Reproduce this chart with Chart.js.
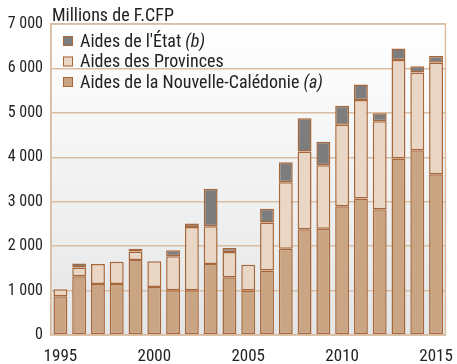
<!DOCTYPE html>
<html lang="fr">
<head>
<meta charset="UTF-8">
<script src="https://cdn.jsdelivr.net/npm/chart.js@4/dist/chart.umd.min.js"></script>
<style>
*{margin:0;padding:0}
body{background:#fff;width:457px;height:364px;overflow:hidden}
#wrap{position:relative;width:457px;height:364px}
</style>
</head>
<body>
<div id="wrap"><canvas id="c" width="457" height="364"></canvas></div>
<script>
// Aides en millions de F.CFP, par année
const years = ["1995","1996","1997","1998","1999","2000","2001","2002","2003","2004","2005",
  "2006","2007","2008","2009","2010","2011","2012","2013","2014","2015"];
const aidesNC = [870,1320,1150,1150,1690,1080,1010,1010,1600,1300,1000,1450,1940,2380,2390,2900,3070,2830,3970,4160,3620];
const aidesProvinces = [160,200,450,500,190,580,760,1420,850,570,580,1080,1500,1750,1430,1830,2220,1980,2220,1750,2510];
const aidesEtat = [0,90,0,0,60,0,140,80,840,90,0,310,450,750,530,430,350,180,260,140,150];
const yTicks = [0,1000,2000,3000,4000,5000,6000,7000];

const FONT = "'Liberation Sans Narrow','Roboto Condensed','DejaVu Sans Condensed',sans-serif";
const EDGE = "#a7673a";
const TAN = "#d9bea4";

function fmt(v){ return String(v).replace(/\B(?=(\d{3})+(?!\d))/g, " "); }

const legendItems = [
  {text:"Aides de l'État", note:"(b)", color:"#7d7d7d"},
  {text:"Aides des Provinces", note:"", color:"#e9d6c5"},
  {text:"Aides de la Nouvelle-Calédonie", note:"(a)", color:"#c9a584"}
];

const decor = {
  id:"decor",
  beforeDraw(chart){
    const a = chart.chartArea, ctx = chart.ctx;
    const g = ctx.createLinearGradient(0, a.top, 0, a.bottom);
    g.addColorStop(0, "#ffffff");
    g.addColorStop(1, "#e4e5e6");
    ctx.save();
    ctx.fillStyle = g;
    ctx.fillRect(a.left, a.top, a.right - a.left, a.bottom - a.top);
    ctx.restore();
  },
  afterDraw(chart){
    const a = chart.chartArea, ctx = chart.ctx;
    ctx.save();
    ctx.strokeStyle = TAN;
    ctx.lineWidth = 1.5;
    ctx.strokeRect(a.left, a.top, a.right - a.left, a.bottom - a.top);
    // unité
    ctx.fillStyle = "#222";
    ctx.font = "18px " + FONT;
    ctx.textBaseline = "alphabetic";
    ctx.fillText("Millions de F.CFP", 52, 21);
    // légende
    let y = 41;
    legendItems.forEach(it => {
      ctx.fillStyle = it.color;
      ctx.fillRect(63, y - 5, 10, 10);
      ctx.strokeStyle = EDGE;
      ctx.lineWidth = 1;
      ctx.strokeRect(63.5, y - 4.5, 9, 9);
      ctx.fillStyle = "#222";
      ctx.textBaseline = "middle";
      ctx.font = "18px " + FONT;
      ctx.fillText(it.text, 80, y + 1);
      if (it.note) {
        const w = ctx.measureText(it.text + " ").width;
        ctx.font = "italic 18px " + FONT;
        ctx.fillText(it.note, 80 + w, y + 1);
      }
      y += 20.5;
    });
    ctx.restore();
  }
};

const bar = {borderColor:EDGE, borderWidth:1.5, borderSkipped:false, barPercentage:0.74, categoryPercentage:1};

new Chart(document.getElementById("c"), {
  type:"bar",
  data:{
    labels:years,
    datasets:[
      Object.assign({label:"Aides de la Nouvelle-Calédonie", data:aidesNC, backgroundColor:"#c9a584"}, bar),
      Object.assign({label:"Aides des Provinces", data:aidesProvinces, backgroundColor:"#e9d6c5"}, bar),
      Object.assign({label:"Aides de l'État", data:aidesEtat.map(v => v || null), backgroundColor:"#7d7d7d"}, bar)
    ]
  },
  options:{
    responsive:false,
    animation:false,
    layout:{padding:{left:0, top:24, right:7, bottom:0}},
    plugins:{legend:{display:false}, tooltip:{enabled:false}},
    scales:{
      x:{
        stacked:true,
        grid:{display:false},
        border:{display:true, color:TAN, width:1.5},
        ticks:{
          autoSkip:false, maxRotation:0, padding:4, color:"#222",
          font:{family:FONT, size:17},
          callback:(v, i) => (+years[i] % 5 === 0 ? years[i] : "")
        },
        afterFit(s){ s.height = 29; }
      },
      y:{
        stacked:true, min:0, max:7000,
        afterBuildTicks(s){ s.ticks = yTicks.map(v => ({value:v})); },
        grid:{color:TAN, lineWidth:1.5, drawTicks:false},
        border:{display:true, color:TAN, width:1.5},
        ticks:{padding:8, color:"#222", font:{family:FONT, size:16}, callback:v => fmt(v)},
        afterFit(s){ s.width = 51; }
      }
    }
  },
  plugins:[decor]
});
</script>
</body>
</html>
